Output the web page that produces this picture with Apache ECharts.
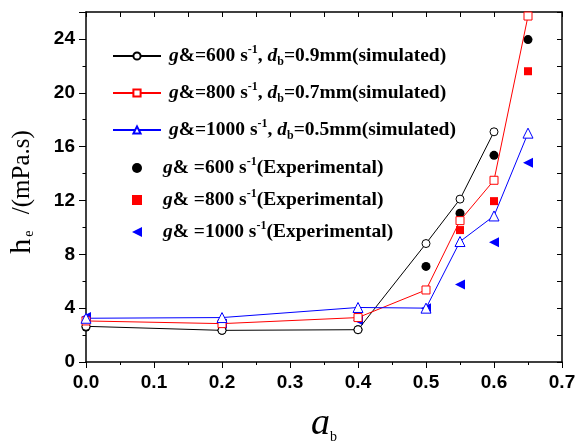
<!DOCTYPE html>
<html>
<head>
<meta charset="utf-8">
<script src="https://cdn.jsdelivr.net/npm/echarts@6/dist/echarts.min.js"></script>
<style>
  html, body { margin: 0; padding: 0; background: #fff; }
  #chart { width: 576px; height: 443px; }
</style>
</head>
<body>
<div id="chart"></div>
<script>
  // alpha_b values
  const alphaB = [0, 0.2, 0.4, 0.5, 0.55, 0.6, 0.65];
  // simulated (lines with hollow markers)
  const sim600 = [2.65, 2.35, 2.4, 8.8, 12.1, 17.1];
  const sim800 = [3.05, 2.85, 3.3, 5.35, 10.5, 13.5, 25.7];
  const sim1000 = [3.25, 3.3, 4.05, 4.0, 8.95, 10.85, 17.0];
  // experimental (filled markers)
  const exp600 = [2.6, 2.35, 2.4, 7.1, 11.05, 15.35, 23.95];
  const exp800 = [2.95, 2.85, 3.4, 5.35, 9.8, 11.95, 21.6];
  const exp1000 = [3.35, 2.85, 3.1, 4.0, 5.75, 8.9, 14.8];

  const leftTri = 'path://M0,5L10,0L10,10Z';

  const simNames = ['sim600', 'sim800', 'sim1000'];
  const expNames = ['exp600', 'exp800', { name: 'exp1000', icon: leftTri }];
  const legendText = {
    sim600: '{p1| }{g|g}{a|&}{t|=600 s}{sup|-1}{t|, }{i|d}{sub|b}{t|=0.9mm(simulated)}',
    sim800: '{p1| }{g|g}{a|&}{t|=800 s}{sup|-1}{t|, }{i|d}{sub|b}{t|=0.7mm(simulated)}',
    sim1000: '{p1| }{g|g}{a|&}{t|=1000 s}{sup|-1}{t|, }{i|d}{sub|b}{t|=0.5mm(simulated)}',
    exp600: '{p2| }{g|g}{a|&}{t| =600 s}{sup|-1}{t|(Experimental)}',
    exp800: '{p2| }{g|g}{a|&}{t| =800 s}{sup|-1}{t|(Experimental)}',
    exp1000: '{p2| }{g|g}{a|&}{t| =1000 s}{sup|-1}{t|(Experimental)}'
  };

  const pairs = (ys) => ys.map((y, i) => [alphaB[i], y]);

  const serif = 'Liberation Serif';
  const base = { fontFamily: serif, fontWeight: 'bold', fontSize: 19.5, lineHeight: 24, color: '#000' };
  const rich = {
    p1: { width: 3 },
    p2: { width: 16 },
    t: base,
    g: Object.assign({}, base, { fontStyle: 'italic' }),
    a: base,
    i: Object.assign({}, base, { fontStyle: 'italic' }),
    sup: { fontFamily: serif, fontWeight: 'bold', fontSize: 12, lineHeight: 12, verticalAlign: 'top', color: '#000' },
    sub: { fontFamily: serif, fontWeight: 'bold', fontSize: 12, lineHeight: 10, verticalAlign: 'bottom', color: '#000' }
  };

  const chart = echarts.init(document.getElementById('chart'), null, { renderer: 'canvas' });

  const tickLabel = { fontFamily: 'Liberation Sans', fontWeight: 'bold', fontSize: 19, color: '#000' };

  const option = {
    animation: false,
    backgroundColor: '#fff',
    grid: { left: 86, right: 14, top: 12, bottom: 81, outerBoundsMode: 'none', containLabel: false },
    legend: [
      {
        data: simNames,
        orient: 'vertical',
        left: 107,
        top: 39,
        itemWidth: 48,
        itemHeight: 9,
        itemGap: 13,
        formatter: (n) => legendText[n],
        textStyle: { rich: rich },
        selectedMode: false
      },
      {
        data: expNames,
        orient: 'vertical',
        left: 127,
        top: 151,
        itemWidth: 10,
        itemHeight: 10,
        itemGap: 10,
        formatter: (n) => legendText[n],
        textStyle: { rich: rich },
        selectedMode: false
      }
    ],
    xAxis: [
      {
        type: 'value', min: 0, max: 0.7, interval: 0.1, position: 'bottom',
        name: '{a|a}{b|b}', nameLocation: 'middle', nameGap: 42,
        nameTextStyle: {
          rich: {
            a: { fontFamily: serif, fontStyle: 'italic', fontSize: 38, color: '#000', lineHeight: 40 },
            b: { fontFamily: serif, fontSize: 14, color: '#000', lineHeight: 12, verticalAlign: 'bottom' }
          }
        },
        axisLine: { onZero: false, lineStyle: { color: '#000', width: 1.5 } },
        axisTick: { inside: false, length: 6, lineStyle: { color: '#000' } },
        minorTick: { show: true, splitNumber: 2, length: 3, lineStyle: { color: '#000' } },
        splitLine: { show: false },
        axisLabel: Object.assign({ margin: 11, formatter: (v) => v.toFixed(1) }, tickLabel)
      },
      {
        type: 'value', min: 0, max: 0.7, interval: 0.05, position: 'top',
        axisLine: { onZero: false, lineStyle: { color: '#000', width: 1.5 } },
        axisTick: { inside: true, length: 5, lineStyle: { color: '#000' } },
        splitLine: { show: false },
        axisLabel: { show: false }
      }
    ],
    yAxis: [
      {
        type: 'value', min: 0, max: 26, interval: 2, position: 'left',
        name: '{h|h}{e|e}{a|  /(mPa.s)}', nameLocation: 'middle', nameGap: 50,
        nameTextStyle: {
          rich: {
            h: { fontFamily: serif, fontSize: 30, color: '#000', lineHeight: 28 },
            a: { fontFamily: serif, fontSize: 25, color: '#000', lineHeight: 28, padding: [0, 10, 0, 0] },
            e: { fontFamily: serif, fontSize: 14, color: '#000', lineHeight: 12, verticalAlign: 'bottom', padding: [0, 4, 0, 2] }
          }
        },
        axisLine: { onZero: false, lineStyle: { color: '#000', width: 1.5 } },
        axisTick: { inside: false, length: 3.5, lineStyle: { color: '#000' } },
        splitLine: { show: false },
        axisLabel: Object.assign({
          margin: 11,
          formatter: (v) => (v % 4 === 0 && v < 26 ? String(v) : '')
        }, tickLabel)
      },
      {
        type: 'value', min: 0, max: 26, interval: 4, position: 'left',
        axisLine: { show: false },
        axisTick: { inside: false, length: 7, lineStyle: { color: '#000' } },
        splitLine: { show: false },
        axisLabel: { show: false }
      },
      {
        type: 'value', min: 0, max: 26, interval: 2, position: 'right',
        axisLine: { onZero: false, lineStyle: { color: '#000', width: 1.5 } },
        axisTick: { inside: true, length: 5, lineStyle: { color: '#000' } },
        splitLine: { show: false },
        axisLabel: { show: false }
      }
    ],
    series: [
      {
        name: 'sim600', type: 'line', data: pairs(sim600),
        symbol: 'circle', symbolSize: 8,
        lineStyle: { color: '#000', width: 1 },
        itemStyle: { color: '#fff', borderColor: '#000', borderWidth: 1 }
      },
      {
        name: 'sim800', type: 'line', data: pairs(sim800),
        symbol: 'rect', symbolSize: 8,
        lineStyle: { color: '#ff0000', width: 1 },
        itemStyle: { color: '#fff', borderColor: '#ff0000', borderWidth: 1 }
      },
      {
        name: 'sim1000', type: 'line', data: pairs(sim1000),
        symbol: 'triangle', symbolSize: 10,
        lineStyle: { color: '#0000ff', width: 1 },
        itemStyle: { color: '#fff', borderColor: '#0000ff', borderWidth: 1 }
      },
      {
        name: 'exp600', type: 'scatter', data: pairs(exp600),
        symbol: 'circle', symbolSize: 9,
        itemStyle: { color: '#000', opacity: 1 }
      },
      {
        name: 'exp800', type: 'scatter', data: pairs(exp800),
        symbol: 'rect', symbolSize: 8,
        itemStyle: { color: '#ff0000', opacity: 1 }
      },
      {
        name: 'exp1000', type: 'scatter', data: pairs(exp1000),
        symbol: leftTri, symbolSize: 10,
        itemStyle: { color: '#0000ff', opacity: 1 }
      }
    ]
  };

  chart.setOption(option);
</script>
</body>
</html>
